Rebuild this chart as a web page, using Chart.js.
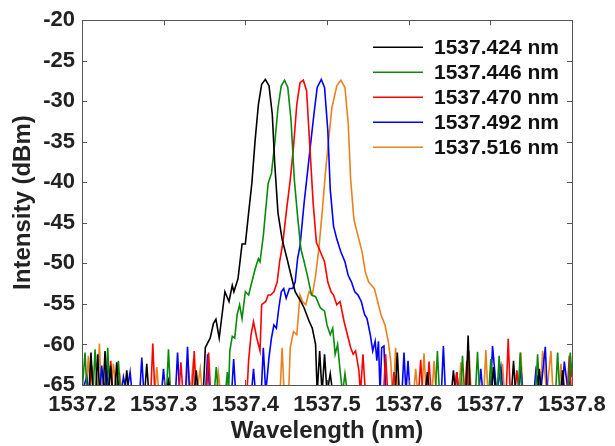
<html>
<head>
<script src="https://cdn.jsdelivr.net/npm/chart.js@4.4.0/dist/chart.umd.min.js"></script>
<style>
  body { margin: 0; background: #fff; }
</style>
</head>
<body>
<canvas id="spec" width="615" height="446"></canvas>
<script>
// axis ranges / tick labels
const X_MIN = 1537.2, X_MAX = 1537.8, X_STEP = 0.1;
const Y_MIN = -65, Y_MAX = -20, Y_STEP = 5;

const LABELS = ["1537.424 nm", "1537.446 nm", "1537.470 nm", "1537.492 nm", "1537.516 nm"];
const COLOURS = ["#000000", "#0a8a0a", "#ff0000", "#0000ff", "#e8821e"];

// [wavelength nm, intensity dBm] (-66 = below the noise floor / axis)
const black = [
  [1537.200,-66],
  [1537.2085,-66],[1537.2110,-61.0],[1537.2135,-66],
  [1537.2167,-66],[1537.2192,-61.2],[1537.2217,-66],
  [1537.2257,-66],[1537.2282,-60.8],[1537.2307,-66],
  [1537.2325,-66],[1537.2350,-62.6],[1537.2375,-66],
  [1537.2400,-66],[1537.2425,-62.2],[1537.2450,-66],
  [1537.2523,-66],[1537.2548,-63.2],[1537.2573,-66],
  [1537.2768,-66],[1537.2793,-62.4],[1537.2818,-66],
  [1537.3034,-66],[1537.3059,-64.5],[1537.3084,-66],
  [1537.3374,-66],[1537.3399,-63.2],[1537.3424,-66],
  [1537.3485,-66],[1537.3510,-60.4],
  [1537.357,-59.2],[1537.361,-57.4],[1537.364,-56.9],[1537.368,-59.2],[1537.373,-55.1],[1537.375,-53.5],
  [1537.380,-54.7],[1537.384,-52.7],[1537.386,-53.5],[1537.391,-51.9],[1537.396,-47.6],[1537.400,-47.6],
  [1537.404,-43.8],[1537.408,-40.1],[1537.412,-34.8],[1537.416,-30.4],[1537.420,-27.9],[1537.4245,-27.3],
  [1537.429,-28.1],[1537.433,-31.6],[1537.436,-37.7],[1537.440,-43.8],[1537.445,-47.0],[1537.451,-49.4],
  [1537.457,-51.9],[1537.461,-53.5],[1537.468,-54.7],[1537.472,-55.5],[1537.478,-57.1],[1537.482,-58.0],
  [1537.486,-60.0],[1537.488,-66],[1537.491,-60.8],[1537.494,-66],[1537.497,-61.2],[1537.500,-66],
  [1537.504,-63.6],[1537.507,-66],
  [1537.5836,-66],[1537.5861,-61.0],[1537.5886,-66],
  [1537.6204,-66],[1537.6229,-63.4],[1537.6254,-66],
  [1537.6523,-66],[1537.6548,-63.2],[1537.6573,-66],
  [1537.6703,-66],[1537.6728,-58.9],[1537.6753,-66],
  [1537.7014,-66],[1537.7039,-62.8],[1537.7064,-66],
  [1537.7259,-66],[1537.7284,-62.0],[1537.7309,-66],
  [1537.7575,-66],[1537.7600,-63.0],[1537.7625,-66],
  [1537.7860,-66],[1537.7885,-63.2],[1537.7910,-66],[1537.800,-66]
];

const green = [
  [1537.200,-66],[1537.2037,-61.0],[1537.2062,-66],
  [1537.2135,-66],[1537.2160,-60.6],[1537.2185,-66],
  [1537.2290,-66],[1537.2315,-60.4],[1537.2340,-66],
  [1537.2421,-66],[1537.2446,-62.0],[1537.2471,-66],
  [1537.3034,-66],[1537.3059,-60.6],[1537.3084,-66],
  [1537.3619,-66],[1537.3644,-62.8],[1537.3669,-66],
  [1537.3755,-66],[1537.3780,-63.4],[1537.3795,-66],
  [1537.381,-60.8],[1537.384,-59.0],[1537.387,-59.2],[1537.390,-56.3],[1537.393,-55.1],[1537.396,-56.8],
  [1537.400,-53.5],[1537.404,-53.9],[1537.408,-52.3],[1537.412,-50.7],[1537.416,-49.4],[1537.418,-49.8],
  [1537.422,-46.6],[1537.425,-43.3],[1537.428,-40.1],[1537.432,-38.9],[1537.436,-35.2],[1537.440,-30.8],
  [1537.444,-28.1],[1537.448,-27.4],[1537.452,-28.3],[1537.456,-32.4],[1537.460,-39.7],[1537.464,-44.2],
  [1537.468,-48.2],[1537.472,-49.8],[1537.476,-51.5],[1537.481,-53.9],[1537.486,-54.1],[1537.492,-55.5],
  [1537.497,-55.9],[1537.500,-57.6],[1537.504,-58.8],[1537.507,-58.0],[1537.510,-61.2],[1537.513,-60.0],
  [1537.516,-63.2],[1537.519,-66],[1537.522,-63.6],[1537.525,-66],
  [1537.6327,-66],[1537.6352,-60.8],[1537.6377,-66],
  [1537.6634,-66],[1537.6659,-61.4],[1537.6684,-66],
  [1537.6818,-66],[1537.6843,-60.9],[1537.6868,-66],
  [1537.6981,-66],[1537.7006,-61.8],[1537.7031,-66],
  [1537.7083,-66],[1537.7108,-61.4],[1537.7133,-66],
  [1537.7341,-66],[1537.7366,-61.0],[1537.7391,-66],
  [1537.7554,-66],[1537.7579,-61.2],[1537.7604,-66],
  [1537.7799,-66],[1537.7824,-61.0],[1537.7849,-66],
  [1537.7954,-66],[1537.7979,-61.0],[1537.800,-64]
];

const red = [
  [1537.200,-66],
  [1537.2094,-66],[1537.2119,-62.6],[1537.2144,-66],
  [1537.2327,-66],[1537.2352,-62.0],[1537.2377,-66],
  [1537.2842,-66],[1537.2867,-59.9],[1537.2892,-66],
  [1537.3186,-66],[1537.3211,-62.2],[1537.3236,-66],
  [1537.3349,-66],[1537.3374,-60.8],[1537.3399,-66],
  [1537.3525,-66],[1537.3550,-61.0],[1537.3575,-66],
  [1537.402,-66],[1537.404,-62.0],[1537.407,-58.8],[1537.410,-57.2],[1537.414,-59.2],[1537.418,-60.8],
  [1537.420,-55.1],[1537.425,-54.7],[1537.428,-53.9],[1537.431,-53.9],[1537.435,-53.5],[1537.439,-52.3],
  [1537.442,-49.8],[1537.446,-47.4],[1537.450,-43.8],[1537.455,-39.7],[1537.459,-35.6],[1537.463,-30.4],
  [1537.467,-27.7],[1537.471,-27.4],[1537.475,-28.7],[1537.479,-35.6],[1537.483,-42.5],[1537.487,-47.4],
  [1537.492,-48.6],[1537.497,-49.8],[1537.501,-52.3],[1537.505,-53.5],[1537.508,-53.9],[1537.512,-55.1],
  [1537.516,-54.7],[1537.521,-57.2],[1537.525,-58.8],[1537.529,-60.4],[1537.532,-61.2],[1537.535,-60.8],
  [1537.539,-63.2],[1537.541,-66],[1537.544,-61.2],[1537.547,-66],
  [1537.5693,-66],[1537.5718,-61.2],[1537.5743,-66],
  [1537.5795,-66],[1537.5820,-63.4],[1537.5845,-66],
  [1537.6122,-66],[1537.6147,-61.9],[1537.6172,-66],
  [1537.6225,-66],[1537.6250,-62.1],[1537.6275,-66],
  [1537.6564,-66],[1537.6589,-63.4],[1537.6614,-66],
  [1537.6687,-66],[1537.6712,-62.0],[1537.6737,-66],
  [1537.7194,-66],[1537.7219,-59.3],[1537.7244,-66],
  [1537.7300,-66],[1537.7325,-63.2],[1537.7350,-66],
  [1537.7942,-66],[1537.7967,-61.4],[1537.7992,-66],[1537.800,-66]
];

const blue = [
  [1537.200,-66],[1537.2057,-64.0],[1537.2082,-66],
  [1537.2216,-66],[1537.2241,-62.6],[1537.2272,-66],[1537.2303,-62.6],[1537.2328,-66],
  [1537.2482,-66],[1537.2507,-64.0],[1537.2548,-66],[1537.2589,-63.4],[1537.2614,-66],
  [1537.2707,-66],[1537.2732,-61.6],[1537.2757,-66],
  [1537.2973,-66],[1537.2998,-63.0],[1537.3023,-66],
  [1537.3145,-66],[1537.3170,-61.0],[1537.3195,-66],
  [1537.3267,-66],[1537.3292,-60.3],[1537.3317,-66],
  [1537.3513,-66],[1537.3538,-61.2],[1537.3563,-66],
  [1537.3832,-66],[1537.3857,-61.8],[1537.3882,-66],
  [1537.4075,-66],[1537.4100,-63.0],[1537.4125,-66],
  [1537.4195,-66],[1537.422,-60.4],[1537.425,-66],[1537.429,-61.6],[1537.432,-59.2],[1537.435,-57.6],
  [1537.438,-58.0],[1537.441,-55.5],[1537.444,-53.5],[1537.447,-53.1],[1537.450,-54.3],[1537.454,-53.1],
  [1537.458,-53.1],[1537.461,-52.3],[1537.464,-49.4],[1537.467,-47.8],[1537.472,-42.5],[1537.476,-38.9],
  [1537.480,-35.2],[1537.484,-31.6],[1537.488,-28.3],[1537.493,-27.3],[1537.497,-28.3],[1537.501,-33.6],
  [1537.504,-40.9],[1537.508,-45.4],[1537.512,-47.0],[1537.517,-48.6],[1537.522,-49.8],[1537.526,-51.5],
  [1537.530,-52.3],[1537.534,-53.5],[1537.538,-53.9],[1537.542,-54.7],[1537.546,-56.3],[1537.549,-56.8],
  [1537.553,-58.8],[1537.556,-60.8],[1537.559,-59.6],[1537.561,-62.0],[1537.563,-59.6],[1537.565,-66],
  [1537.567,-60.4],[1537.5697,-60.2],[1537.572,-66],
  [1537.5918,-66],[1537.5943,-61.0],[1537.5967,-66],[1537.5992,-62.0],[1537.6017,-66],
  [1537.6400,-66],[1537.6425,-60.2],[1537.6450,-66],
  [1537.6564,-66],[1537.6589,-63.4],[1537.6614,-66],
  [1537.6858,-66],[1537.6883,-63.0],[1537.6908,-66],
  [1537.7002,-66],[1537.7027,-60.2],[1537.7078,-66],[1537.7129,-62.8],[1537.7154,-66],
  [1537.7349,-66],[1537.7374,-62.8],[1537.7399,-66],
  [1537.7533,-66],[1537.7558,-63.2],[1537.7615,-66],[1537.7673,-60.3],[1537.7698,-66],
  [1537.7881,-66],[1537.7906,-62.1],[1537.7953,-66],[1537.800,-62.6]
];

const orange = [
  [1537.200,-66],
  [1537.2053,-66],[1537.2078,-61.4],[1537.2103,-66],
  [1537.2188,-66],[1537.2213,-59.9],[1537.2238,-66],
  [1537.2359,-66],[1537.2384,-62.4],[1537.2425,-66],[1537.2466,-64.0],[1537.2491,-66],
  [1537.2891,-66],[1537.2916,-62.8],[1537.2941,-66],
  [1537.3272,-66],[1537.3297,-62.0],[1537.3327,-66],[1537.3358,-62.6],[1537.3403,-66],[1537.3448,-63.0],[1537.3473,-66],
  [1537.3645,-66],[1537.3670,-63.5],[1537.3695,-66],
  [1537.4425,-66],[1537.4450,-60.4],[1537.4475,-66],
  [1537.453,-66],[1537.455,-60.4],[1537.459,-58.4],[1537.463,-58.8],[1537.467,-53.9],[1537.470,-54.7],
  [1537.474,-55.1],[1537.478,-53.5],[1537.482,-53.9],[1537.486,-51.5],[1537.490,-48.2],[1537.494,-43.8],
  [1537.498,-38.9],[1537.502,-34.8],[1537.506,-30.8],[1537.512,-28.1],[1537.517,-27.4],[1537.522,-28.3],
  [1537.526,-32.8],[1537.529,-39.7],[1537.533,-44.6],[1537.538,-46.6],[1537.543,-48.6],[1537.547,-51.1],
  [1537.551,-52.3],[1537.558,-53.1],[1537.562,-54.7],[1537.566,-56.3],[1537.571,-57.6],[1537.575,-59.6],
  [1537.578,-62.0],[1537.580,-66],
  [1537.5815,-66],[1537.5840,-60.4],[1537.5865,-66],
  [1537.6061,-66],[1537.6086,-63.0],[1537.6111,-66],
  [1537.6163,-66],[1537.6188,-61.1],[1537.6213,-66],
  [1537.6286,-66],[1537.6311,-62.0],[1537.6336,-66],
  [1537.6613,-66],[1537.6638,-62.2],[1537.6663,-66],
  [1537.6715,-66],[1537.6740,-60.8],[1537.6765,-66],
  [1537.6920,-66],[1537.6945,-60.7],[1537.6970,-66],
  [1537.7124,-66],[1537.7149,-62.4],[1537.7174,-66],
  [1537.7349,-66],[1537.7374,-61.0],[1537.7399,-66],
  [1537.7615,-66],[1537.7640,-60.8],[1537.7691,-66],[1537.7742,-60.8],[1537.7767,-66],
  [1537.7840,-66],[1537.7865,-62.4],[1537.7890,-66],[1537.800,-66]
];

const SERIES = [black, green, red, blue, orange];

const FONT = "Arial, 'Liberation Sans', sans-serif";
const AXIS_COLOUR = "#555";

// matlab style box with inward ticks + legend inside the plot
const boxPlugin = {
  id: "box",
  afterDraw(chart) {
    const ctx = chart.ctx;
    const a = chart.chartArea;
    const xs = chart.scales.x, ys = chart.scales.y;
    ctx.save();
    ctx.strokeStyle = AXIS_COLOUR;
    ctx.lineWidth = 1;
    ctx.strokeRect(Math.round(a.left) + 0.5, Math.round(a.top) + 0.5, Math.round(a.right - a.left), Math.round(a.bottom - a.top));
    const tl = 5;
    ctx.beginPath();
    xs.ticks.forEach(t => {
      const px = Math.round(xs.getPixelForValue(t.value)) + 0.5;
      ctx.moveTo(px, a.bottom); ctx.lineTo(px, a.bottom - tl);
      ctx.moveTo(px, a.top); ctx.lineTo(px, a.top + tl);
    });
    ys.ticks.forEach(t => {
      const py = Math.round(ys.getPixelForValue(t.value)) + 0.5;
      ctx.moveTo(a.left, py); ctx.lineTo(a.left + tl, py);
      ctx.moveTo(a.right, py); ctx.lineTo(a.right - tl, py);
    });
    ctx.stroke();

    // legend
    ctx.font = "bold 21px " + FONT;
    ctx.textBaseline = "middle";
    ctx.fillStyle = "#111";
    chart.data.datasets.forEach((ds, i) => {
      const y = a.top + 27 + i * 25;
      ctx.strokeStyle = ds.borderColor;
      ctx.lineWidth = 1.5;
      ctx.beginPath();
      ctx.moveTo(a.right - 199, y); ctx.lineTo(a.right - 149, y);
      ctx.stroke();
      ctx.fillText(ds.label, a.right - 138, y + 1);
    });
    ctx.restore();
  }
};

new Chart(document.getElementById("spec"), {
  type: "line",
  data: {
    datasets: SERIES.map((s, i) => ({
      label: LABELS[i],
      data: s.map(p => ({x: p[0], y: p[1]})),
      borderColor: COLOURS[i],
      borderWidth: 1.6,
      pointRadius: 0,
      tension: 0,
      fill: false,
      clip: 0
    }))
  },
  options: {
    responsive: false,
    animation: false,
    layout: { padding: { top: 15, right: 43, left: 0, bottom: 0 } },
    plugins: { legend: { display: false }, tooltip: { enabled: false } },
    scales: {
      x: {
        type: "linear",
        min: X_MIN, max: X_MAX,
        grid: { display: false, drawTicks: false },
        border: { display: false },
        ticks: {
          stepSize: X_STEP, padding: 7, color: "#222",
          font: { family: FONT, size: 22, weight: "bold" },
          callback: v => v.toFixed(1),
          maxRotation: 0
        },
        title: {
          display: true, text: "Wavelength (nm)", color: "#222",
          font: { family: FONT, size: 24, weight: "bold" },
          padding: { top: 0, bottom: 0 }
        },
        afterFit: s => { s.height = 61; }
      },
      y: {
        min: Y_MIN, max: Y_MAX,
        grid: { display: false, drawTicks: false },
        border: { display: false },
        ticks: {
          stepSize: Y_STEP, padding: 7, color: "#222",
          font: { family: FONT, size: 22, weight: "bold" }
        },
        title: {
          display: true, text: "Intensity (dBm)", color: "#222",
          font: { family: FONT, size: 24, weight: "bold" },
          padding: { top: 9, bottom: 0 }
        },
        afterFit: s => { s.width = 82; }
      }
    }
  },
  plugins: [boxPlugin]
});
</script>
</body>
</html>
